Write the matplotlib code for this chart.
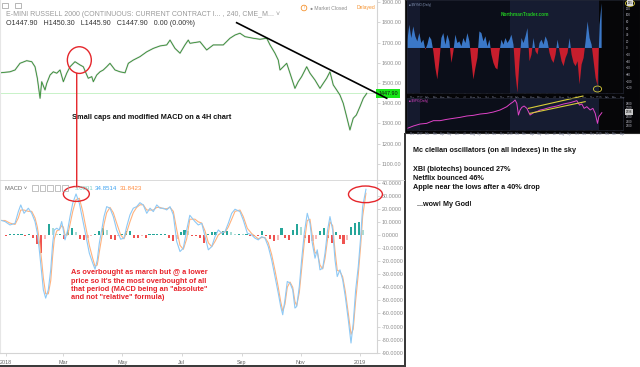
import numpy as np
import matplotlib
matplotlib.use("Agg")
import matplotlib.pyplot as plt
from matplotlib.patches import Ellipse, Rectangle, Circle, ConnectionPatch

plt.rcParams['font.family'] = ['Liberation Sans', 'DejaVu Sans']

# ---- E-mini Russell 2000, 4H chart (x = days since 2018-01-01)
price_day = [-6.2, 4.1, 9.3, 14.4, 21.3, 26.5, 29.9, 32.3, 35.1, 36.8, 40.2, 42, 45.4,
             48.8, 52.3, 55.7, 59.1, 62.6, 66, 71.1, 76.3, 79.7, 82.5, 84.8, 88.4, 90,
             93.5, 96.9, 100.3, 103.8, 107.2, 112.4, 117.5, 122.7, 126.1, 131.2, 138.1,
             145.1, 151.9, 158.8, 165.7, 169.1, 174.2, 179.4, 184.5, 187.9, 189.7, 200,
             206.9, 213.7, 224, 230.9, 236.1, 241.2, 246.4, 254.9, 261.9, 268.8, 272.2,
             277.3, 280.7, 282.5, 285.9, 289.4, 292.8, 297.9, 301.3, 304.8, 310, 313.4,
             318.6, 323.7, 327.1, 330.6, 334, 337.4, 340.9, 344.3, 347.7, 351.2, 354.6,
             358, 361.2, 364.9, 368.4, 371.9]
price_val = [1550, 1555, 1564, 1597, 1610, 1605, 1580, 1523, 1424, 1506, 1465, 1498, 1539,
             1555, 1548, 1564, 1506, 1548, 1580, 1605, 1589, 1580, 1548, 1523, 1531, 1506,
             1539, 1555, 1564, 1580, 1597, 1564, 1555, 1550, 1597, 1613, 1630,
             1654, 1671, 1683, 1688, 1712, 1671, 1647, 1688, 1712, 1696, 1704,
             1663, 1688, 1688, 1721, 1737, 1746, 1729, 1721, 1716, 1721, 1688,
             1647, 1613, 1564, 1580, 1597, 1548, 1473, 1506, 1531, 1580, 1548,
             1514, 1473, 1498, 1523, 1555, 1490, 1465, 1440, 1399, 1333, 1267,
             1325, 1341, 1382, 1424, 1447.9]
last_price = 1447.90

macd_day = [-6.2, -1, 4.1, 9.3, 12.7, 15.2, 18.6, 23, 26.5, 29.9, 32.3, 34.3, 36.8, 38.5,
            40.9, 43.6, 46.1, 48.1, 49.8, 52.3, 54.9, 57.4, 59.1, 60.8, 63.6, 66, 68.8,
            72.2, 75.6, 79.1, 82.5, 85.9, 89.4, 91.8, 94.1, 96.2, 98.7, 101, 103.8, 107.2,
            110.6, 114.1, 118.2, 121.6, 124.4, 127.8, 131.2, 134.7, 138.1, 141.5, 145.1,
            148.5, 151.9, 155.4, 158.8, 162.2, 165.7, 169.1, 172.5, 176, 179.4, 182.8,
            186.3, 189.5, 194.8, 198.2, 201.8, 205.2, 208.6, 212.1, 215.5, 218.9, 222.4,
            225.8, 229.2, 232.7, 236.1, 241.2, 244.6, 248.8, 253.3, 256.7, 260.1, 263.6,
            267, 270.4, 273.9, 277.3, 280.7, 283.2, 285.3, 287.6, 290, 292.8, 295.6,
            297.9, 299.7, 302.4, 304.8, 307.5, 310.6, 313.4, 315.8, 318.6, 320.9, 323.7,
            326.5, 328.9, 331.6, 334, 336.8, 339.2, 341.5, 344.3, 347.1, 349.8, 352.9,
            355.7, 358, 360.5, 363.2, 365.7, 367.7, 371.1]
macd_val = [11.4, 10.2, 7.6, 8.9, 17.8, 22.9, 16.5, 20.4, 16.5, 10.2, 1.3, -11.4, -29.2, -42,
            -48.3, -42, -26.7, -6.3, 3.8, 5.1, 3.8, 10.2, 3.8, -3.8, 3.8, 14, 24.2,
            31.3, 24.2, 11.4, -1.3, -14, -21.6, -26.2, -19.1, -6.3, 3.8, 14, 21.6, 20.4,
            14, 3.8, -3.3, -2.5, 6.3, 15.3, 20.4, 21.6, 24.6, 22.9, 16.5,
            20.4, 17.8, 22.9, 20.4, 20.4, 19.1, 21.6, 15.3, -5.1, -12.7, -10.2,
            3.8, 15, 10.2, 7.6, 8.9, -1.3, -11.4, -8.9, -1.3, 3.8, 1.3,
            2.5, 8.9, 16.5, 19.6, 17.8, 11.4, 1.3, 0, -2.5, -3.8, -1.3,
            -2.5, -8.9, -19.1, -31.8, -44.5, -54.7, -61, -49.6, -35.6, -36.8, -42,
            -55.9, -54.7, -39.4, -19.1, 1.3, 16.5, 8.9, -6.3, -17.8, -11.4, -26.7,
            -25.4, -14, 3.8, 14, 3.8, -19.1, -31.8, -26.7, -34.3, -47.1, -64.8,
            -82.6, -67.4, -42, -24.2, -1.3, 21.6, 34.85]
signal_val = [11, 11, 9, 8, 13, 19, 19, 18, 18, 13, 6, -4, -20, -33,
              -45, -45, -35, -16, -3, 3, 4, 7, 6, 0, 0, 8, 18,
              27, 28, 18, 5, -8, -18, -24, -23, -13, -2, 8, 17, 21,
              17, 9, 0, -3, 2, 10, 17, 21, 23, 23, 19,
              19, 19, 21, 21, 20, 20, 21, 18, 4, -8, -11,
              -3, 12, 12, 10, 9, 3, -6, -9, -5, 0, 2,
              2, 6, 12, 18, 19, 14, 5, 1, -1, -3, -2,
              -2, -6, -15, -27, -40, -51, -58, -53, -40, -36, -40,
              -51, -54, -44, -26, -6, 11, 12, -1, -14, -13, -23,
              -26, -18, -3, 10, 7, -12, -27, -28, -32, -43, -60,
              -76, -72, -50, -30, -8, 14, 31.84]
hist_day = list(range(0, 372, 4))
hist_val = [-1, 1, 1, 1, 1, -1, 1, -2, -7, -14,
            -3, 8, 5, 1, 1, -3, 4, 5, 2, -3,
            -4, -2, -1, 0.5, 3, 5, 4, -3, -4, -1,
            1, 3, 3, -2, -2, -1, -2, 1, 1, 1,
            1, 1, -2, -5, -3, 2, 4, 3, -1, -1,
            -2, -6, 1, 2, 2, 1, 3, 3, 2, 1,
            1, 0.5, 0.5, -0.5, -0.5, -1, 3, -1, -3, -5,
            -4, 5, -2, -4, 4, 8, 6, -2, -6, -5,
            -3, 3, 5, -2, -6, 2, -3, -7, -4, 6,
            9, 10, 4]

date_ticks = [0, 59, 120, 181, 243, 304, 365]
date_labels = ['2018', 'Mar', 'May', 'Jul', 'Sep', 'Nov', '2019']
price_ticks = [1100, 1200, 1300, 1400, 1500, 1600, 1700, 1800, 1900]
macd_ticks = [40, 30, 20, 10, 0, -10, -20, -30, -40, -50, -60, -70, -80, -90]

trend_day = [237.8, 392.5]
trend_val = [1798, 1424]

# ---- McClellan oscillator + S&P 500 inset (x = months since Jan 2017)
osc_val = [20, 70, 30, 65, 35, 20, 45, 15, 25, -5, 10, 35, 25, -10, -60, -95, -40, 30,
           45, 10, 40, 20, -45, -10, 40, 15, 20, 5, 30, 15, 45, 20, -40, -95, -60, -30,
           50, 45, 20, 35, 5, 25, -20, -45, -60, -65, -10, 25, 10, 30, 15, 25, 40, 10,
           -80, -135, -40, 30, 15, 35, 60, -40, -20, 30, -10, -20, 15, 25, 10, 35, 20,
           -15, -35, -45, -20, 25, -10, -40, -55, -30, -15, 30, -20, -45, -55, -40,
           -110, -50, -30, 20, 80, 30, 10, -40, -90, -115, 70, 135]
osc_month = np.linspace(-1.7, 24.3, len(osc_val))
spx_month = [-1.7, -0.89, 0, 0.89, 1.79, 2.68, 3.57, 4.46, 5.36, 6.25, 7.14, 8.04, 8.93,
             9.82, 10.71, 11.61, 12.05, 12.5, 12.72, 12.95, 13.17, 13.39, 13.62, 13.93,
             14.29, 14.73, 15.18, 15.63, 16.07, 16.52, 16.96, 17.41, 17.86, 18.3, 18.75,
             19.2, 19.64, 20.09, 20.54, 20.98, 21.34, 21.65, 21.96, 22.32, 22.77, 23.13,
             23.44, 23.75, 23.93, 24.33]
spx_val = [2240, 2292, 2336, 2351, 2411, 2411, 2440, 2463, 2485, 2515, 2530, 2559, 2574,
           2604, 2649, 2723, 2783, 2835, 2872, 2798, 2537, 2649, 2708, 2738,
           2686, 2537, 2589, 2612, 2649, 2664, 2686, 2708, 2723, 2738, 2760,
           2783, 2798, 2812, 2835, 2857, 2760, 2783, 2686, 2723, 2649, 2686,
           2574, 2351, 2500, 2589]
chan_top_x, chan_top_y = [14.5, 21.8], [2686, 2961]
chan_bot_x, chan_bot_y = [14.7, 22.1], [2574, 2835]
month_names = ['Dec', '2017', 'Feb', 'Mar', 'Apr', 'May', 'Jun', 'Jul', 'Aug', 'Sep', 'Oct',
               'Nov', 'Dec', '2018', 'Feb', 'Mar', 'Apr', 'May', 'Jun', 'Jul', 'Aug', 'Sep',
               'Oct', 'Nov', 'Dec', '2019', 'Feb', 'Mar', 'Apr']
osc_ticks = [120, 100, 80, 60, 40, 20, 0, -20, -40, -60, -80, -100, -120]
spx_ticks = [2300, 2400, 2500, 2600, 2700, 2800]

W, H = 640, 367
fig = plt.figure(figsize=(6.4, 3.67), dpi=100)


def box(x0, y0, x1, y1):
    return [x0 / W, 1 - y1 / H, (x1 - x0) / W, (y1 - y0) / H]


grey_txt = '#8c8c8c'
line_grey = '#d4d4d4'

# ---------------- price panel
ax_p = fig.add_axes(box(0, 0, 377, 180))
ax_p.plot(price_day, price_val, color='#a8a8a8', lw=1.3, alpha=0.45, solid_joinstyle='round')
ax_p.plot(price_day, price_val, color='#2f8f2f', lw=0.6)
ax_p.axhline(last_price, color='#bff0bf', lw=0.6, zorder=0)
ax_p.plot(trend_day, trend_val, color='black', lw=1.2, clip_on=False, zorder=6)
ax_p.set_xlim(-6.2, 382.5)
ax_p.set_ylim(1019.4, 1910.4)
ax_p.set_yticks(price_ticks)
ax_p.set_yticklabels(['%.2f' % v for v in price_ticks])
ax_p.yaxis.tick_right()
ax_p.tick_params(axis='y', length=2, width=0.5, color='#c8c8c8', labelsize=3.9,
                 labelcolor=grey_txt, pad=1.5)
ax_p.tick_params(axis='x', bottom=False, labelbottom=False)
for s in ['top', 'bottom']:
    ax_p.spines[s].set_visible(False)
ax_p.spines['left'].set_color('#e6e6e6')
ax_p.spines['right'].set_color(line_grey)
ax_p.text(1.003, last_price, '1447.90', transform=ax_p.get_yaxis_transform(),
          fontsize=3.9, color='#111111', va='center', ha='left', clip_on=False, zorder=5,
          bbox=dict(boxstyle='square,pad=0.35', fc='#19e619', ec='none'))
ax_p.add_patch(Ellipse((75.6, 1613), 24.7, 132, fill=False, ec='#e5262b', lw=1, zorder=7))

# ---------------- MACD panel
ax_m = fig.add_axes(box(0, 180, 377, 352.7))
hist_col = []
prev = 0
for v in hist_val:
    if v >= 0:
        hist_col.append('#26a69a' if v >= prev else '#a8dcd6')
    else:
        hist_col.append('#ef5350' if v <= prev else '#f8b9b8')
    prev = v
ax_m.bar(hist_day, hist_val, width=2.2, color=hist_col, linewidth=0)
ax_m.plot(macd_day, signal_val, color='#ffb27d', lw=0.8)
ax_m.plot(macd_day, macd_val, color='#8ec9f5', lw=0.8)
ax_m.set_xlim(-6.2, 382.5)
ax_m.set_ylim(-89.8, 41.95)
ax_m.set_yticks(macd_ticks)
ax_m.set_yticklabels(['%.4f' % v for v in macd_ticks])
ax_m.yaxis.tick_right()
ax_m.tick_params(axis='y', length=2, width=0.5, color='#c8c8c8', labelsize=3.9,
                 labelcolor=grey_txt, pad=1.5)
ax_m.set_xticks(date_ticks)
ax_m.set_xticklabels(date_labels)
ax_m.tick_params(axis='x', length=2, width=0.5, color='#c8c8c8', labelsize=3.9,
                 labelcolor='#666666', pad=3)
ax_m.spines['top'].set_visible(False)
ax_m.spines['left'].set_color('#e6e6e6')
ax_m.spines['right'].set_color(line_grey)
ax_m.spines['bottom'].set_color(line_grey)
ax_m.add_patch(Ellipse((72.5, 31.3), 26.8, 11.4, fill=False, ec='#e5262b', lw=1, zorder=7))
ax_m.add_patch(Ellipse((370.6, 31), 35, 12.7, fill=False, ec='#e5262b', lw=1, zorder=7,
                       clip_on=False))

con = ConnectionPatch(xyA=(72.9, 1547), coordsA=ax_p.transData,
                      xyB=(72.9, 36.6), coordsB=ax_m.transData,
                      color='#e5262b', lw=1, zorder=8)
fig.add_artist(con)

# ---------------- dark McClellan chart
ax_bg = fig.add_axes(box(405, 0, 640, 133))
ax_bg.set_facecolor('#050507')
ax_bg.set_xticks([])
ax_bg.set_yticks([])
for s in ax_bg.spines.values():
    s.set_color('#2a2a2a')

month_pos = list(range(-1, 28))
spans = [(-1.7, 0, '#151a2e'), (0, 12, '#0b0e19'), (12, 24, '#161c31'), (24, 27.2, '#060608')]

ax_o = fig.add_axes(box(407.3, 0, 623.3, 93.3))
ax_s = fig.add_axes(box(407.3, 97.5, 623.3, 129.5))
for a in (ax_o, ax_s):
    a.set_facecolor('#060608')
    for x0, x1, c in spans:
        a.axvspan(x0, x1, color=c, lw=0, zorder=0)
    a.set_xlim(-1.7, 27.2)
    a.set_xticks(month_pos)
    a.set_xticklabels(month_names)
    a.tick_params(axis='x', length=1, width=0.3, color='#40465a', labelsize=2.1,
                  labelcolor='#7a8099', pad=0.8)
    a.yaxis.tick_right()
    a.tick_params(axis='y', length=1, width=0.3, color='#40465a', labelsize=2.1,
                  labelcolor='#c0c0cc', pad=0.8)
    for s in a.spines.values():
        s.set_color('#262a38')
        s.set_linewidth(0.4)

osc = np.array(osc_val, dtype=float)
ax_o.fill_between(osc_month, osc, 0, where=osc >= 0, interpolate=True, color='#3b78c8', lw=0)
ax_o.fill_between(osc_month, osc, 0, where=osc <= 0, interpolate=True, color='#c81e2d', lw=0)
ax_o.set_ylim(-137, 145)
ax_o.set_yticks(osc_ticks)
ax_o.text(0.01, 0.97, '\u25a0 $NYMO (Daily)', transform=ax_o.transAxes, fontsize=2.1,
          color='#8090b0', va='top')
ax_o.add_patch(Ellipse((23.75, -124), 1.1, 18, fill=False, ec='#d8cc3a', lw=0.6))

ax_s.plot(spx_month, spx_val, color='#e043c8', lw=0.7)
ax_s.plot(chan_top_x, chan_top_y, color='#d8cc3a', lw=0.8, clip_on=False)
ax_s.plot(chan_bot_x, chan_bot_y, color='#d8cc3a', lw=0.8, clip_on=False)
ax_s.set_ylim(2214, 2928)
ax_s.set_yticks(spx_ticks)
ax_s.text(0.01, 0.95, '\u25a0 $SPX (Daily)', transform=ax_s.transAxes, fontsize=2.1,
          color='#e043c8', va='top')

# ---------------- overlay (text and screen furniture, pixel coords)
ax_ov = fig.add_axes([0, 0, 1, 1])
ax_ov.set_xlim(0, W)
ax_ov.set_ylim(H, 0)
ax_ov.axis('off')
ax_ov.patch.set_alpha(0)

ax_ov.plot([0, 404], [180, 180], color=line_grey, lw=0.6)
ax_ov.add_patch(Rectangle((404, 133), 2.2, 234, color='#3a3a3a', lw=0))
ax_ov.add_patch(Rectangle((0, 364.5), 405, 3, color='#3c3c3c', lw=0))

# header of the price panel
ax_ov.add_patch(Rectangle((2, 3), 5.5, 5, fill=False, ec='#9a9a9a', lw=0.5))
ax_ov.add_patch(Rectangle((15, 3), 5.5, 5, fill=False, ec='#9a9a9a', lw=0.5))
ax_ov.text(6, 14, 'E-MINI RUSSELL 2000 (CONTINUOUS: CURRENT CONTRACT I... , 240, CME_M... \u02c5',
           fontsize=5.05, color='#9a9a9a', va='center', ha='left')
ax_ov.text(6, 23.5, 'O1447.90   H1450.30   L1445.90   C1447.90   0.00 (0.00%)',
           fontsize=5.1, color='#333333', va='center', ha='left')
ax_ov.add_patch(Circle((304, 8), 2.8, fill=False, ec='#f5922f', lw=0.6))
ax_ov.text(304, 8.2, '!', fontsize=3, color='#f5922f', va='center', ha='center')
ax_ov.text(310, 8, '\u25cf Market Closed', fontsize=3.6, color='#8c8c8c', va='center', ha='left')
ax_ov.text(357, 8, 'Delayed', fontsize=3.6, color='#f5922f', va='center', ha='left')

# header of the MACD panel
ax_ov.text(5, 188, 'MACD \u02c5', fontsize=4.2, color='#666666', va='center', ha='left')
for bx in [32, 39.5, 47, 54.5, 62]:
    ax_ov.add_patch(Rectangle((bx, 185), 5.5, 5.5, fill=False, ec='#a8a8a8', lw=0.5))
ax_ov.text(75, 188, '3.0091', fontsize=4.4, color='#7fcfc4', va='center', ha='left')
ax_ov.text(95, 188, '34.8514', fontsize=4.4, color='#3fa3f0', va='center', ha='left')
ax_ov.text(120, 188, '31.8423', fontsize=4.4, color='#ff8c3f', va='center', ha='left')

# annotations
ax_ov.text(72, 117.7, 'Small caps and modified MACD on a 4H chart', fontsize=5.3,
           fontweight='bold', color='#111111', va='center', ha='left')
red_lines = ['As overbought as march but @ a lower',
             "price so it's the most overbought of all",
             'that period (MACD being an "absolute"',
             'and not "relative" formula)']
for i, t in enumerate(red_lines):
    ax_ov.text(71, 272.7 + 8.35 * i, t, fontsize=5.3, fontweight='bold', color='#e8232b',
               va='center', ha='left')

ax_ov.text(525, 15, 'NorthmanTrader.com', fontsize=3.4, fontweight='bold', color='#22c422',
           va='center', ha='center')
ax_ov.text(630, 3.2, '135', fontsize=2.1, color='#111111', va='center', ha='center',
           bbox=dict(boxstyle='square,pad=0.3', fc='#d8d8d8', ec='none'))
ax_ov.add_patch(Ellipse((630, 3.4), 9, 6, fill=False, ec='#d8cc3a', lw=0.6))
ax_ov.text(629, 112, '2596', fontsize=2.1, color='#111111', va='center', ha='center',
           bbox=dict(boxstyle='square,pad=0.3', fc='#c8c8c8', ec='none'))

right_lines = [(412.7, 150.7, 'Mc clellan oscillators (on all indexes) in the sky'),
               (412.7, 169.3, 'XBI (biotechs) bounced 27%'),
               (412.7, 178.7, 'Netflix bounced 46%'),
               (412.7, 187.3, 'Apple near the lows after a 40% drop'),
               (416.7, 204.3, '...wow! My God!')]
for x, y, t in right_lines:
    ax_ov.text(x, y, t, fontsize=5.2, fontweight='bold', color='#111111', va='center', ha='left')

fig.savefig('out.png', dpi=100)
